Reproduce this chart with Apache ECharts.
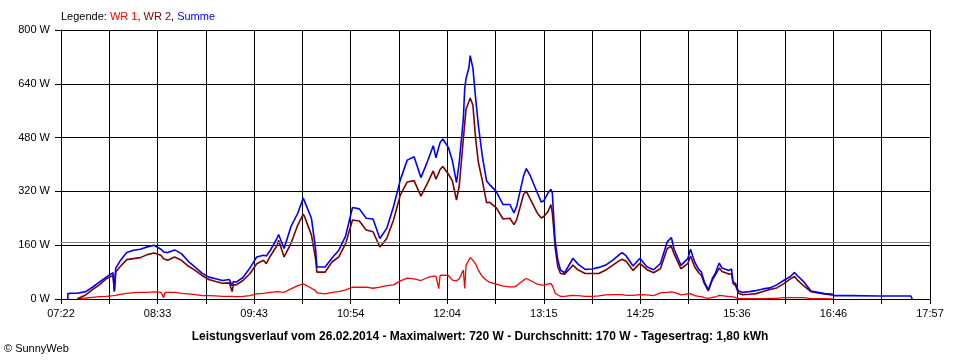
<!DOCTYPE html>
<html>
<head>
<meta charset="utf-8">
<script src="https://cdn.jsdelivr.net/npm/echarts@6/dist/echarts.min.js"></script>
<style>
html,body{margin:0;padding:0;background:#fff;}
#c{width:960px;height:360px;}
</style>
</head>
<body>
<div id="c"></div>
<script>
// ---- data ----
const xTickLabels = ['07:22','08:33','09:43','10:54','12:04','13:15','14:25','15:36','16:46','17:57'];
const yMax = 800, yStep = 160, yUnit = ' W';
const avgValue = 170;
const seriesNames = ['WR 1', 'WR 2', 'Summe'];
const titleText = 'Leistungsverlauf vom 26.02.2014 - Maximalwert: 720 W - Durchschnitt: 170 W - Tagesertrag: 1,80 kWh';

const times = [
'07:27','07:27','07:30','07:34','07:35','07:40','07:45','07:50','07:55','08:00',
'08:01','08:02','08:05','08:10','08:15','08:20','08:25','08:30','08:35','08:37',
'08:38','08:40','08:45','08:50','08:55','09:00','09:05','09:10','09:15','09:20',
'09:25','09:27','09:28','09:30','09:35','09:40','09:45','09:50','09:52','09:55',
'10:00','10:01','10:05','10:10','10:15','10:19','10:20','10:25','10:28','10:29',
'10:30','10:35','10:40','10:45','10:50','10:55','11:00','11:05','11:10','11:15',
'11:20','11:25','11:30','11:35','11:40','11:45','11:50','11:54','11:56','11:58',
'11:59','12:01','12:05','12:08','12:11','12:13','12:16','12:17','12:18','12:20',
'12:21','12:23','12:25','12:27','12:30','12:33','12:35','12:40','12:45','12:50',
'12:53','12:55','13:00','13:02','13:05','13:10','13:13','13:15','13:18','13:20',
'13:21','13:22','13:23','13:25','13:27','13:30','13:35','13:36','13:40','13:45',
'13:50','13:55','14:00','14:05','14:10','14:12','14:15','14:20','14:25','14:30',
'14:35','14:40','14:45','14:48','14:50','14:55','15:00','15:02','15:05','15:08',
'15:10','15:12','15:15','15:18','15:20','15:23','15:25','15:30','15:32','15:33',
'15:35','15:37','15:40','15:45','15:50','15:55','16:00','16:05','16:10','16:15',
'16:18','16:20','16:25','16:30','16:35','16:40','16:45','16:46','16:47','17:00',
'17:20','17:43','17:44'
];
const wr1 = [
null,null,null,1,2,3,5,7,8,10,
10,11,14,17,19,20,20,21,20,4,
20,20,20,17,15,13,10,10,9,8,
8,8,8,7,8,10,15,17,18,20,
22,22,20,30,40,45,45,32,25,18,
18,15,20,22,27,35,35,35,32,35,
40,42,54,62,60,55,64,68,68,31,
70,71,70,56,54,60,86,31,100,116,
123,115,104,85,66,55,50,44,38,36,
36,40,56,61,55,44,41,41,45,46,
40,30,18,12,8,8,11,11,10,8,
8,9,12,13,13,13,11,11,13,12,
10,18,20,21,20,12,15,16,10,8,
7,4,2,5,6,11,10,7,7,5,
4,2,1,1,1,1,2,2,4,4,
4,4,4,1,1,1,0,0,null,null,
null,null,null
];
const wr2 = [
null,null,null,1,3,12,28,42,60,70,
22,80,95,117,120,123,132,137,130,120,
118,115,125,115,98,85,70,58,52,47,
48,22,42,42,55,75,105,115,105,128,
160,175,125,165,220,252,245,190,120,80,
77,80,110,125,165,235,232,205,200,155,
180,235,310,348,352,306,346,381,356,375,
385,394,372,351,294,336,476,521,566,586,
598,576,476,406,350,286,288,272,238,240,
221,236,311,321,296,256,241,246,261,281,
256,211,156,96,76,74,95,101,86,76,
76,76,86,100,114,118,112,85,106,88,
78,90,150,156,134,90,105,128,96,78,
70,47,24,57,70,92,82,74,75,47,
39,17,13,14,16,22,28,33,45,60,
67,57,38,22,18,15,12,12,null,null,
null,null,null
];
const summe = [
0,16,17,17,18,22,35,50,65,78,
25,92,112,138,145,148,155,160,148,140,
140,138,146,135,112,95,77,65,60,55,
58,40,52,50,64,92,125,130,128,145,
182,192,150,215,255,300,295,240,150,95,
90,95,122,145,188,272,268,240,238,180,
210,275,355,413,423,361,411,456,420,451,
465,476,451,411,346,406,536,626,656,686,
724,686,596,516,421,351,341,320,281,281,
256,276,366,388,366,316,288,293,316,326,
316,246,176,116,86,78,113,121,103,88,
89,94,101,115,132,138,128,98,121,96,
87,105,170,183,148,100,120,148,110,88,
80,52,27,62,75,107,92,85,89,52,
45,24,20,22,25,30,33,42,55,67,
79,70,50,24,20,16,15,15,10,10,
9,9,0
];

// ---- helpers ----
function toMin(s){ const p = s.split(':'); return (+p[0]) * 60 + (+p[1]); }
const xStart = toMin(xTickLabels[0]);
const xEnd = toMin(xTickLabels[xTickLabels.length - 1]) - xStart;
const xStep = xEnd / ((xTickLabels.length - 1) * 2);
function pairs(vals){ return times.map((t, i) => [toMin(t) - xStart, vals[i]]); }

const FONT = '"Liberation Sans", Arial, sans-serif';
const chart = echarts.init(document.getElementById('c'), null, {renderer: 'canvas'});

function rs(color){ return {color: color, fontSize: 11, fontWeight: 'normal', fontFamily: FONT}; }

chart.setOption({
  animation: false,
  backgroundColor: '#ffffff',
  textStyle: {fontFamily: FONT},
  title: [
    {
      left: 61, top: 11, padding: 0,
      text: '{k|Legende: }{a|' + seriesNames[0] + '}{k|, }{b|' + seriesNames[1] + '}{k|, }{c|' + seriesNames[2] + '}',
      textStyle: {
        fontWeight: 'normal', fontSize: 11,
        rich: { k: rs('#000000'), a: rs('#ff0000'), b: rs('#800000'), c: rs('#0000ff') }
      }
    },
    {
      left: 'center', top: 331, padding: 0,
      text: titleText,
      textStyle: {color: '#000', fontSize: 12, fontWeight: 'bold', fontFamily: FONT}
    },
    {
      left: 4, top: 343, padding: 0,
      text: '\u00a9 SunnyWeb',
      textStyle: {color: '#000', fontSize: 11, fontWeight: 'normal', fontFamily: FONT}
    }
  ],
  grid: {left: 61, right: 30, top: 30, bottom: 61, containLabel: false},
  xAxis: {
    type: 'value',
    min: 0, max: xEnd, interval: xStep,
    axisLine: {show: true, onZero: false, lineStyle: {color: '#000', width: 1}},
    axisTick: {show: true, length: 5, lineStyle: {color: '#000'}},
    splitLine: {show: true, lineStyle: {color: '#000', width: 1}},
    axisLabel: {
      show: true, margin: 9, color: '#000', fontSize: 11, fontFamily: FONT,
      showMinLabel: true, showMaxLabel: true,
      formatter: function (v) {
        const i = Math.round(v / xStep);
        if (i % 2) return '';
        return xTickLabels[i / 2] || '';
      }
    }
  },
  yAxis: {
    type: 'value',
    min: 0, max: yMax, interval: yStep,
    axisLine: {show: true, lineStyle: {color: '#000', width: 1}},
    axisTick: {show: true, length: 6, lineStyle: {color: '#000'}},
    splitLine: {show: true, lineStyle: {color: '#000', width: 1}},
    axisLabel: {
      margin: 11, color: '#000', fontSize: 11, fontFamily: FONT,
      formatter: function (v) { return v + yUnit; }
    }
  },
  series: [
    {
      name: seriesNames[0], type: 'line', data: pairs(wr1),
      showSymbol: false, symbol: 'none', connectNulls: false,
      lineStyle: {color: '#ff0000', width: 1.3}, z: 3,
      markLine: {
        silent: true, symbol: 'none', label: {show: false},
        lineStyle: {color: '#808080', width: 1, type: 'solid'},
        data: [{yAxis: avgValue}]
      }
    },
    {
      name: seriesNames[1], type: 'line', data: pairs(wr2),
      showSymbol: false, symbol: 'none', connectNulls: false,
      lineStyle: {color: '#800000', width: 1.6}, z: 4
    },
    {
      name: seriesNames[2], type: 'line', data: pairs(summe),
      showSymbol: false, symbol: 'none', connectNulls: false,
      lineStyle: {color: '#0000ff', width: 1.6}, z: 5
    }
  ]
});
</script>
</body>
</html>
